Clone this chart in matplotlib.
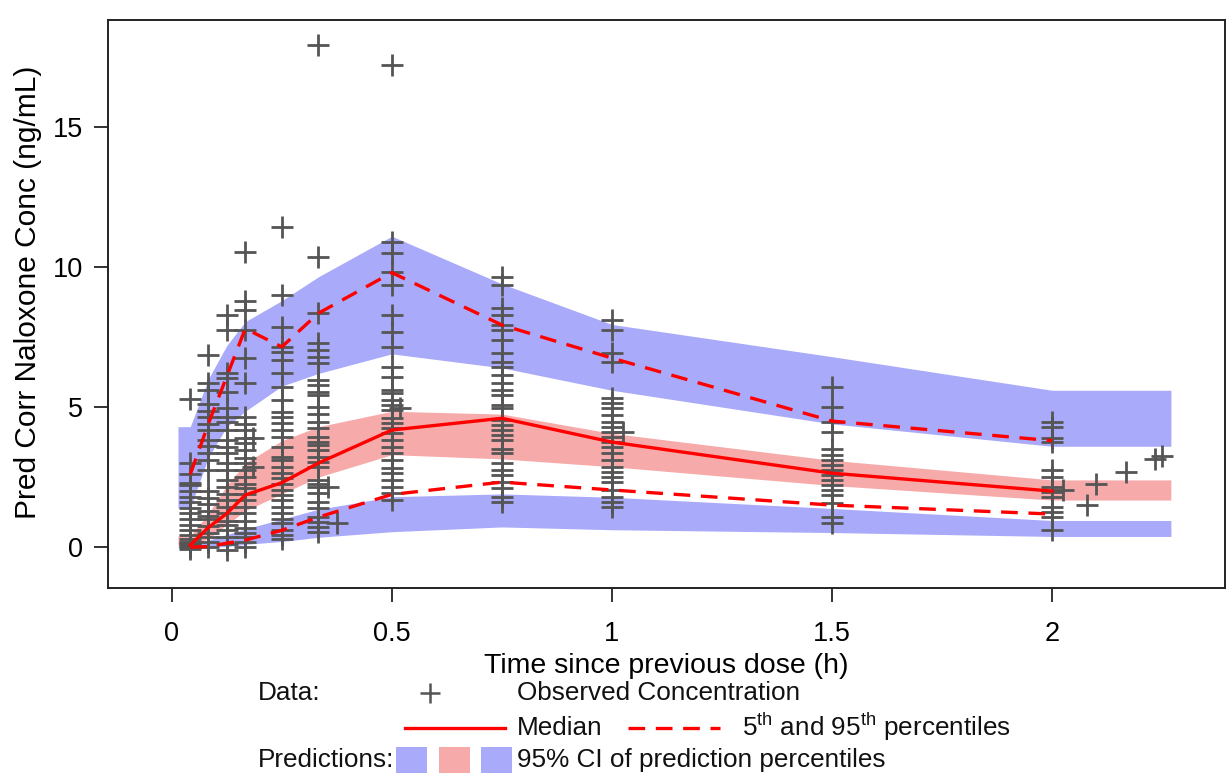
import matplotlib
matplotlib.use("Agg")
import matplotlib.pyplot as plt
from matplotlib.patches import Rectangle
from matplotlib.lines import Line2D
import numpy as np

plt.rcParams['font.family'] = ['Liberation Sans', 'DejaVu Sans']
plt.rcParams['mathtext.fontset'] = 'custom'
plt.rcParams['mathtext.rm'] = 'Liberation Sans'
plt.rcParams['mathtext.it'] = 'Liberation Sans'

# Nominal sampling times (h) and observed prediction-corrected concentrations (ng/mL)
nominal_t = [0.042, 0.083, 0.125, 0.167, 0.25, 0.333, 0.5, 0.75, 1.0, 1.5, 2.0]

c_2min = [5.3, 3.0, 2.6, 2.3, 2.2, 2.0, 1.8, 1.6, 1.4, 1.2, 1.0, 0.8, 0.6, 0.45,
          0.3, 0.2, 0.1, 0.0, -0.05, 0.15, 0.05]
c_5min = [6.86, 5.85, 5.6, 5.12, 4.85, 4.65, 4.4, 4.18, 3.82, 3.6, 3.35, 3.1, 2.75,
          2.0, 1.75, 1.55, 1.3, 1.1, 1.0, 0.75, 0.5, 0.35, 0.2, 0.0]
c_7min = [8.29, 7.75, 6.2, 6.05, 5.55, 4.95, 4.65, 4.45, 4.18, 3.82, 3.58, 3.35, 3.0,
          2.75, 2.4, 2.15, 1.9, 1.67, 1.43, 1.2, 0.95, 0.78, 0.6, 0.36, 0.12, -0.11]
c_10min = [10.55, 8.8, 8.45, 7.75, 6.74, 5.85, 4.65, 4.4, 4.18, 3.88, 3.7, 3.45, 3.17,
           3.0, 2.75, 2.5, 2.27, 2.1, 1.9, 1.67, 1.43, 1.2, 0.95, 0.7, 0.5, 0.35,
           0.18, 0.0]
c_15min = [11.43, 9.0, 7.86, 7.15, 6.98, 6.68, 6.2, 5.73, 5.27, 4.83, 4.65, 4.42, 4.18,
           3.94, 3.58, 3.23, 3.1, 2.87, 2.63, 2.45, 2.27, 2.04, 1.86, 1.68, 1.44,
           1.2, 1.02, 0.85, 0.6, 0.43, 0.3]
c_20min = [17.93, 10.37, 8.35, 7.27, 7.04, 6.8, 6.56, 5.96, 5.79, 5.55, 5.43, 5.01,
           4.77, 4.48, 4.24, 3.94, 3.76, 3.64, 3.46, 3.23, 3.05, 2.87, 2.39, 2.27,
           2.15, 1.92, 1.62, 1.38, 1.08, 0.9, 0.73, 0.55]
c_30min = [17.2, 10.9, 10.49, 9.83, 9.36, 8.29, 7.69, 7.15, 6.44, 6.08, 5.61, 5.49,
           5.25, 5.07, 4.89, 4.6, 4.42, 4.24, 4.06, 3.82, 3.58, 3.35, 3.1, 2.81,
           2.63, 2.39, 2.15, 1.92, 1.68]
c_45min = [9.65, 9.36, 8.52, 8.29, 7.93, 7.75, 7.39, 6.92, 6.62, 6.44, 6.14, 5.85,
           5.61, 5.43, 5.07, 4.95, 4.54, 4.36, 4.18, 4.0, 3.82, 3.52, 3.35, 2.99,
           2.75, 2.57, 2.33, 2.1, 1.8, 1.62]
c_60min = [8.1, 7.75, 6.92, 6.62, 5.31, 5.13, 4.95, 4.71, 4.48, 4.3, 4.12, 3.94, 3.76,
           3.58, 3.35, 3.11, 2.87, 2.69, 2.51, 2.33, 2.04, 1.8, 1.62, 1.44]
c_90min = [5.73, 5.01, 4.48, 4.12, 3.52, 3.29, 3.11, 2.93, 2.75, 2.57, 2.39, 2.21,
           2.04, 1.86, 1.56, 1.08, 0.85]
c_120min = [4.48, 4.3, 3.88, 3.76, 2.75, 2.51, 2.15, 1.98, 1.8, 1.44, 1.26, 1.08, 0.6]

# Samples taken away from the nominal times
extra_t = [0.185, 0.185, 0.355, 0.375, 0.518, 1.025, 2.025, 2.08, 2.1, 2.168, 2.234, 2.25]
extra_c = [3.9, 2.85, 2.15, 0.86, 4.96, 4.1, 2.04, 1.5, 2.25, 2.68, 3.14, 3.25]

# Observed-based percentile lines
median_obs = [0.07, 0.7, 1.2, 1.86, 2.3, 3.0, 4.18, 4.6, 3.75, 2.64, 2.0]
p95_obs = [2.6, 4.4, 6.1, 7.8, 7.15, 8.35, 9.8, 7.93, 6.75, 4.5, 3.8]
p05_obs = [0.0, 0.02, 0.14, 0.25, 0.6, 1.07, 1.88, 2.32, 2.04, 1.5, 1.18]

# Simulated 95% CI bands for each prediction percentile
band_t = [0.014, 0.042, 0.083, 0.125, 0.167, 0.25, 0.333, 0.5, 0.75, 1.0, 1.5, 2.0, 2.27]
p95_lo = [1.4, 1.4, 3.2, 4.3, 4.85, 5.75, 6.2, 6.9, 6.4, 5.6, 4.4, 3.6, 3.6]
p95_hi = [4.3, 4.3, 6.0, 7.2, 8.05, 8.8, 9.65, 11.1, 9.4, 7.95, 6.8, 5.6, 5.6]
med_lo = [0.05, 0.05, 0.3, 0.8, 1.3, 1.9, 2.5, 3.3, 3.15, 2.87, 2.2, 1.68, 1.68]
med_hi = [0.4, 0.4, 1.2, 2.2, 3.0, 3.8, 4.3, 4.85, 4.75, 4.06, 3.1, 2.4, 2.4]
p05_lo = [0.0, 0.0, 0.0, 0.02, 0.1, 0.2, 0.35, 0.55, 0.72, 0.62, 0.52, 0.38, 0.38]
p05_hi = [0.02, 0.05, 0.25, 0.45, 0.65, 1.0, 1.35, 1.8, 1.9, 1.78, 1.38, 0.95, 0.95]

BLUE = '#AAAAFA'
PINK = '#F7AAAA'
RED = '#FF0000'
GREY = '#555555'
FS = 19.5
FS_LEG = 18.8

fig = plt.figure(figsize=(12.28, 7.73), dpi=100)
ax = fig.add_axes([108 / 1228, 1 - 588 / 773, (1225 - 108) / 1228, (588 - 20) / 773])

ax.fill_between(band_t, p95_lo, p95_hi, color=BLUE, lw=0, zorder=1)
ax.fill_between(band_t, med_lo, med_hi, color=PINK, lw=0, zorder=1)
ax.fill_between(band_t, p05_lo, p05_hi, color=BLUE, lw=0, zorder=1)

columns = [c_2min, c_5min, c_7min, c_10min, c_15min, c_20min,
           c_30min, c_45min, c_60min, c_90min, c_120min]
mk = dict(marker='+', ls='none', color=GREY, ms=15.5, mew=2.0, zorder=3)
for t, vals in zip(nominal_t, columns):
    ax.plot([t] * len(vals), vals, **mk)
ax.plot(extra_t, extra_c, **mk)

ax.plot(nominal_t, median_obs, color=RED, lw=2.4, zorder=4)
ax.plot(nominal_t, p95_obs, color=RED, lw=2.4, dashes=(5, 3.2), zorder=4)
ax.plot(nominal_t, p05_obs, color=RED, lw=2.4, dashes=(5, 3.2), zorder=4)

ax.set_xlim(-0.145, 2.393)
ax.set_ylim(-1.46, 18.82)
ax.set_xticks([0, 0.5, 1, 1.5, 2])
ax.set_xticklabels(['0', '0.5', '1', '1.5', '2'])
ax.set_yticks([0, 5, 10, 15])
ax.tick_params(direction='out', length=10, width=1.3, labelsize=FS, color='#222222')
ax.tick_params(axis='x', pad=14)
ax.tick_params(axis='y', pad=8)
for s in ax.spines.values():
    s.set_linewidth(1.4)
    s.set_color('#222222')
ax.set_xlabel('Time since previous dose (h)', fontsize=20.5, labelpad=4)
ax.set_ylabel('Pred Corr Naloxone Conc (ng/mL)', fontsize=21.5, labelpad=10)
ax.yaxis.set_label_coords(-0.059, 0.52)

# Legend block under the plot, laid out in pixel coordinates
lg = fig.add_axes([0, 0, 1, 1], zorder=5)
lg.set_xlim(0, 1228)
lg.set_ylim(773, 0)
lg.axis('off')
lg.patch.set_alpha(0)

txt = dict(fontsize=FS_LEG, va='center', ha='left', color='#111111')
r1, r2, r3 = 693, 728, 760
lg.text(258, r1, 'Data:', **txt)
lg.plot([430], [r1], marker='+', color=GREY, ms=15, mew=1.8)
lg.text(517, r1, 'Observed Concentration', **txt)

lg.add_line(Line2D([405, 505], [r2, r2], color=RED, lw=2.4))
lg.text(517, r2, 'Median', **txt)
lg.add_line(Line2D([628, 720], [r2, r2], color=RED, lw=2.4, dashes=(5, 3.2)))
lg.text(742, r2 - 1, r'5$^{\mathrm{th}}$ and 95$^{\mathrm{th}}$ percentiles', **txt)

lg.text(258, r3, 'Predictions:', **txt)
for x0, col in [(396, BLUE), (439, PINK), (481, BLUE)]:
    lg.add_patch(Rectangle((x0, r3 - 13), 31, 26, color=col, lw=0))
lg.text(517, r3, '95% CI of prediction percentiles', **txt)

fig.savefig('out.png', dpi=100)
